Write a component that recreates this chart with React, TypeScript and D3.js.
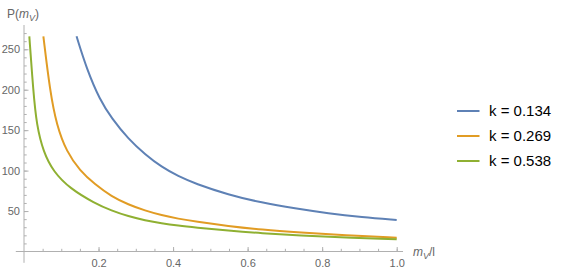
import React, { useEffect, useRef } from 'react';
import * as d3 from 'd3';

// values
const blueX = [0.141, 0.168, 0.204, 0.235, 0.28, 0.325, 0.369, 0.414, 0.459, 0.548, 0.638, 0.727, 0.817, 0.906, 1.0];
const blueY = [266, 226, 187, 165, 139, 120, 104.5, 93, 84, 70.2, 60.3, 53.2, 47, 42.5, 39];

const orangeX = [0.052, 0.07, 0.0877, 0.1145, 0.15, 0.19, 0.235, 0.28, 0.325, 0.369, 0.414, 0.459, 0.548, 0.638, 0.741, 0.861, 1.0];
const orangeY = [266, 197.5, 156, 123, 100, 83, 68, 58, 50.5, 44.8, 40.5, 37, 31.5, 27, 23.5, 20, 17];

const greenX = [0.0143, 0.025, 0.034, 0.052, 0.079, 0.123, 0.19, 0.235, 0.28, 0.325, 0.369, 0.414, 0.459, 0.548, 0.638, 0.741, 0.861, 1.0];
const greenY = [266, 197.5, 156, 123, 98.6, 78, 59.6, 50.5, 43.5, 38.5, 34.8, 32, 29.8, 25.8, 22.5, 19.8, 17.4, 15];

const seriesLabels = ['k = 0.134', 'k = 0.269', 'k = 0.538'];
const seriesColors = ['#5E81B5', '#E19C24', '#8FB032'];

const xMajorTicks = [0.2, 0.4, 0.6, 0.8, 1.0];
const xMinorTicks = d3.range(1, 21).map(i => i * 0.05);
const yMajorTicks = [50, 100, 150, 200, 250];
const yMinorTicks = d3.range(1, 28).map(i => i * 10);

const App = () => {
  const ref = useRef<SVGSVGElement>(null);

  useEffect(() => {
    const svg = d3.select(ref.current);
    svg.selectAll('*').remove();

    const width = 561;
    const height = 275;

    const x = d3.scaleLinear().domain([0, 1]).range([24, 396.7]);
    const y = d3.scaleLinear().domain([0, 280]).range([251.5, 25]);

    const axisColor = '#b0b0b0';
    const labelColor = '#666';
    const font = '"Liberation Sans", Arial, sans-serif';

    // axis lines (with Mathematica-style padding)
    svg.append('line')
      .attr('x1', x(-0.022)).attr('x2', x(1.017))
      .attr('y1', y(0)).attr('y2', y(0))
      .attr('stroke', axisColor);
    svg.append('line')
      .attr('x1', x(0)).attr('x2', x(0))
      .attr('y1', y(-14)).attr('y2', y(280))
      .attr('stroke', axisColor);

    // x axis ticks
    const gx = svg.append('g').attr('transform', `translate(0,${y(0)})`);
    gx.call(d3.axisBottom(x).tickValues(xMinorTicks).tickSizeInner(-2.7).tickSizeOuter(0).tickFormat(() => ''));
    gx.select('.domain').remove();
    const gx2 = svg.append('g').attr('transform', `translate(0,${y(0)})`);
    gx2.call(d3.axisBottom(x).tickValues(xMajorTicks).tickSizeInner(-4.5).tickSizeOuter(0).tickPadding(8)
      .tickFormat(d => d3.format('.1f')(d as number)));
    gx2.select('.domain').remove();

    // y axis ticks
    const gy = svg.append('g').attr('transform', `translate(${x(0)},0)`);
    gy.call(d3.axisLeft(y).tickValues(yMinorTicks).tickSizeInner(-2.7).tickSizeOuter(0).tickFormat(() => ''));
    gy.select('.domain').remove();
    const gy2 = svg.append('g').attr('transform', `translate(${x(0)},0)`);
    gy2.call(d3.axisLeft(y).tickValues(yMajorTicks).tickSizeInner(-4.5).tickSizeOuter(0).tickPadding(4));
    gy2.select('.domain').remove();

    svg.selectAll('.tick line').attr('stroke', axisColor);
    svg.selectAll('.tick text')
      .attr('fill', labelColor)
      .style('font-family', font)
      .style('font-size', '11px');

    // curves
    const line = d3.line<[number, number]>()
      .x(d => x(d[0]))
      .y(d => y(d[1]))
      .curve(d3.curveBasis);

    const series = [
      d3.zip(blueX, blueY),
      d3.zip(orangeX, orangeY),
      d3.zip(greenX, greenY)
    ];

    series.forEach((s, i) => {
      svg.append('path')
        .datum(s as [number, number][])
        .attr('fill', 'none')
        .attr('stroke', seriesColors[i])
        .attr('stroke-width', 2)
        .attr('d', line);
    });

    // axis labels
    const yLabel = svg.append('text')
      .attr('x', 7).attr('y', 18)
      .attr('fill', labelColor)
      .style('font-family', font)
      .style('font-size', '12px');
    yLabel.append('tspan').text('P(');
    yLabel.append('tspan').attr('font-style', 'italic').text('m');
    yLabel.append('tspan').attr('font-style', 'italic').attr('font-size', '9px').attr('dy', 2.5).text('V');
    yLabel.append('tspan').attr('dy', -2.5).text(')');

    const xLabel = svg.append('text')
      .attr('x', 413).attr('y', 256)
      .attr('fill', labelColor)
      .style('font-family', font)
      .style('font-size', '12px');
    xLabel.append('tspan').attr('font-style', 'italic').text('m');
    xLabel.append('tspan').attr('font-style', 'italic').attr('font-size', '9px').attr('dy', 2.5).text('V');
    xLabel.append('tspan').attr('dy', -2.5).text('/l');

    // legend
    const legend = svg.append('g').attr('transform', 'translate(457,111)');
    seriesLabels.forEach((label, i) => {
      const yPos = i * 25;
      legend.append('line')
        .attr('x1', 0).attr('x2', 22.5)
        .attr('y1', yPos).attr('y2', yPos)
        .attr('stroke', seriesColors[i])
        .attr('stroke-width', 2);
      legend.append('text')
        .attr('x', 32)
        .attr('y', yPos + 5.3)
        .attr('fill', '#000')
        .style('font-family', font)
        .style('font-size', '15px')
        .text(label);
    });

    svg.attr('width', width).attr('height', height);
  }, []);

  return (
    <svg ref={ref} width={561} height={275}
      style={{ position: 'absolute', left: 0, top: 0, background: '#fff' }} />
  );
};

export default App;
